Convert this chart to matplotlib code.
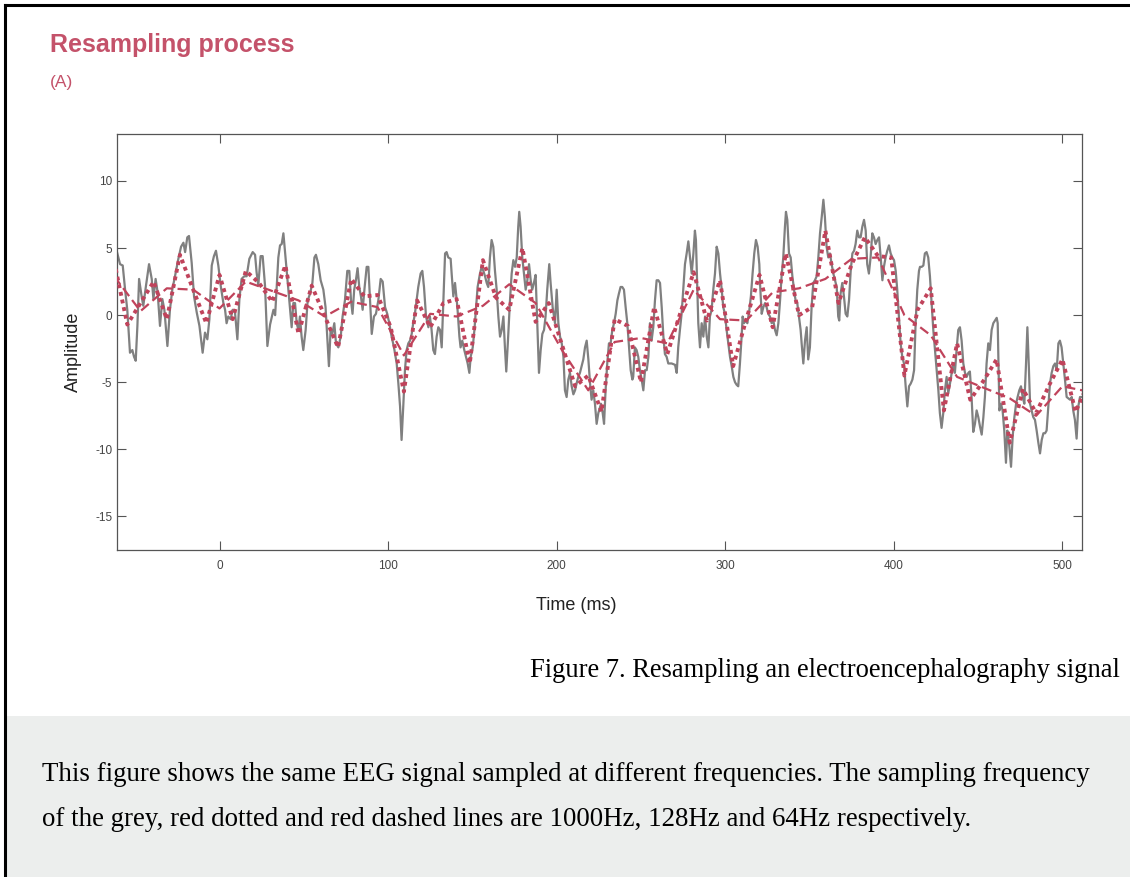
import matplotlib
matplotlib.use("Agg")
import matplotlib.pyplot as plt
from matplotlib.lines import Line2D
from matplotlib.patches import Rectangle

plt.rcParams["axes.unicode_minus"] = False

# ---- data -----------------------------------------------------------------
# 1000 Hz recording (turning points of the trace)
grey_t = [-61.0, -59.0, -57.4, -56.0, -54.7, -53.1, -51.7, -50.7, -49.7, -48.7, -47.7, -46.2,
          -45.2, -43.6, -41.8, -40.2, -39.2, -37.9, -36.7, -35.3, -33.9, -32.7, -30.9, -29.4,
          -28.0, -26.4, -24.4, -22.8, -21.4, -20.4, -19.1, -18.1, -16.5, -15.1, -13.5, -11.9,
          -10.0, -8.6, -7.2, -6.0, -4.6, -3.3, -2.1, -0.7, 0.7, 2.3, 3.3, 4.2, 5.2, 6.6, 7.8,
          9.2, 10.6, 11.8, 13.1, 14.7, 16.1, 17.7, 19.7, 21.1, 22.0, 23.0, 24.4, 25.6, 27.0,
          28.4, 30.0, 32.0, 33.0, 33.9, 34.9, 35.9, 36.9, 37.9, 38.8, 39.8, 40.8, 41.8, 42.8,
          43.8, 44.8, 45.8, 46.8, 47.7, 48.7, 49.7, 51.1, 52.3, 53.7, 55.1, 56.3, 57.2, 58.6,
          60.0, 61.6, 62.9, 63.9, 64.9, 65.9, 66.9, 68.1, 69.1, 70.5, 71.9, 73.0, 74.4, 75.8,
          77.0, 78.0, 78.9, 79.9, 80.9, 81.9, 82.9, 83.9, 84.9, 86.1, 87.3, 88.3, 89.3, 90.3,
          91.6, 92.8, 94.2, 95.6, 96.8, 97.6, 98.2, 99.5, 100.7, 102.1, 103.5, 105.1, 106.1,
          107.1, 108.0, 109.0, 110.0, 111.0, 112.0, 113.0, 114.0, 114.9, 115.9, 116.9, 117.9,
          119.3, 120.3, 121.3, 122.5, 123.9, 124.8, 125.8, 126.8, 127.8, 128.8, 129.8, 130.8,
          131.8, 132.8, 133.8, 134.7, 135.7, 137.1, 137.7, 138.7, 139.7, 140.3, 141.1, 142.3,
          143.0, 144.0, 145.2, 146.2, 147.2, 148.2, 149.0, 150.2, 151.2, 152.1, 153.1, 154.5,
          155.5, 156.5, 157.5, 158.5, 159.4, 160.4, 161.4, 162.4, 163.4, 164.4, 165.4, 166.4,
          167.4, 168.4, 169.3, 170.1, 171.1, 172.3, 173.3, 174.3, 175.3, 176.3, 177.2, 177.8,
          178.6, 179.6, 180.6, 181.6, 182.6, 183.6, 184.6, 185.5, 186.5, 187.5, 188.5, 189.5,
          190.5, 191.5, 192.5, 193.4, 194.4, 195.6, 196.4, 197.6, 199.0, 200.0, 201.0, 202.0,
          203.0, 204.0, 204.9, 205.9, 206.9, 207.9, 208.9, 209.9, 210.9, 211.8, 212.8, 213.8,
          214.8, 215.8, 216.8, 217.8, 218.8, 219.8, 220.7, 221.7, 222.7, 223.7, 224.7, 226.3,
          227.3, 228.1, 229.0, 230.0, 231.0, 232.0, 233.0, 234.0, 235.0, 236.0, 236.9, 237.9,
          238.9, 239.9, 240.9, 241.9, 242.9, 243.9, 244.9, 245.4, 246.4, 247.4, 248.4, 249.4,
          250.4, 251.4, 252.4, 253.4, 254.4, 255.3, 256.3, 257.3, 258.3, 259.3, 260.3, 261.3,
          262.3, 263.3, 264.2, 265.2, 266.2, 268.2, 270.2, 271.2, 272.1, 273.1, 274.1, 275.1,
          276.1, 277.1, 278.1, 279.1, 280.1, 281.1, 282.0, 282.6, 283.4, 284.0, 285.0, 286.0,
          287.0, 288.0, 289.0, 290.0, 290.9, 291.9, 292.9, 293.9, 294.9, 295.9, 296.9, 297.9,
          298.8, 299.8, 300.8, 301.8, 302.8, 303.8, 304.8, 305.8, 306.8, 307.7, 308.7, 309.7,
          310.3, 311.1, 312.1, 313.1, 314.3, 315.2, 316.2, 317.2, 318.2, 319.2, 320.2, 320.6,
          321.6, 322.6, 323.6, 324.5, 325.5, 326.5, 327.5, 328.5, 329.5, 330.5, 331.5, 332.5,
          333.4, 334.4, 335.4, 336.0, 336.8, 337.8, 338.8, 339.8, 340.8, 341.7, 342.7, 343.7,
          344.7, 345.3, 346.3, 347.3, 348.3, 349.2, 350.2, 351.2, 352.2, 353.2, 354.2, 355.2,
          356.2, 357.2, 358.2, 359.1, 360.1, 361.1, 362.1, 363.1, 364.1, 365.1, 366.1, 367.0,
          367.6, 368.4, 369.4, 370.4, 371.4, 372.4, 373.4, 374.4, 375.4, 376.4, 377.3, 378.3,
          379.3, 380.3, 381.3, 382.3, 383.3, 384.2, 385.2, 386.2, 387.2, 388.2, 389.2, 390.2,
          391.2, 392.2, 393.2, 394.1, 395.1, 396.1, 397.1, 398.1, 399.1, 400.1, 401.1, 402.0,
          403.0, 404.0, 405.0, 406.0, 407.0, 408.0, 409.0, 410.0, 411.0, 412.0, 412.9, 413.9,
          414.9, 415.5, 416.5, 417.5, 418.4, 419.4, 420.4, 421.4, 422.4, 423.4, 424.4, 425.4,
          426.4, 427.3, 428.3, 429.3, 430.3, 431.3, 432.3, 433.3, 434.3, 435.3, 436.2, 437.2,
          438.2, 439.2, 440.2, 441.2, 442.2, 443.2, 444.2, 445.1, 446.1, 447.1, 448.1, 449.1,
          450.1, 451.1, 452.1, 453.1, 454.0, 455.0, 456.0, 457.0, 458.0, 459.0, 460.0, 461.0,
          461.6, 462.6, 463.5, 464.5, 465.5, 466.5, 467.3, 468.3, 469.5, 470.5, 471.5, 472.5,
          473.4, 474.4, 475.4, 476.4, 477.4, 478.4, 479.2, 480.0, 480.8, 481.7, 482.7, 483.7,
          484.7, 485.7, 486.7, 487.7, 488.7, 489.7, 490.6, 491.6, 492.6, 493.6, 494.6, 495.6,
          496.6, 497.6, 498.5, 499.5, 500.5, 501.5, 502.5, 503.5, 504.5, 505.5, 506.4, 507.4,
          508.4, 509.4, 510.4, 511.4]
grey_v = [4.8, 3.8, 3.7, 1.9, 0.4, -2.8, -2.6, -3.1, -3.4, -0.8, 2.7, 1.4,
          0.7, 2.2, 3.8, 2.7, 1.2, 2.7, 1.7, -0.8, 1.2, 0.4, -2.3, 0.4,
          1.9, 2.9, 4.2, 5.1, 5.4, 4.7, 5.8, 5.9, 3.9, 1.4, 0.2, -0.8,
          -2.8, -1.3, -1.8, -0.3, 3.7, 4.4, 4.8, 3.7, 2.2, 0.9, 0.4, -0.6, -0.1, -0.3, 0.4,
          0.2, -1.8, 1.2, 2.7, 2.9, 2.9, 4.2, 4.7, 4.5, 3.2, 2.2, 4.4, 4.4, 2.2,
          -2.3, -0.7, 0.4, 0.0, 2.1, 4.3, 5.2, 5.3, 6.1, 4.8, 3.3, 1.9, 0.4, -0.9,
          0.9, 0.9, -0.6, -1.1, -0.1, -1.6, -2.6, -1.1, 1.1, 1.6, 2.4, 4.3, 4.5, 3.8,
          2.6, 1.9, 0.6, -1.6, -3.8, -1.1, -1.4, -0.6, -2.1, -2.4, -1.6, -0.1, 1.1, 3.3,
          3.3, 1.1, 0.1, 1.9, 2.6, 3.5, 2.1, 1.4, 0.4, 2.1, 3.6, 3.6, 1.1, -1.4,
          -0.1, 0.1, 1.1, 2.7, 2.5, 1.4, 0.6, 0.1, -0.6, -1.6, -2.4, -3.6, -5.1,
          -6.8, -9.3, -6.8, -4.1, -2.6, -2.1, -1.9, -1.4, -0.6, 0.1, 1.1, 2.1,
          3.1, 3.3, 2.1, -0.1, -0.9, -0.1, -1.1, -2.6, -2.9, -1.6, -0.9, -1.1,
          -2.4, 1.1, 4.6, 4.7, 4.3, 4.2, 3.1, 1.4, 2.4, 1.6, 0.6, -1.6,
          -2.4, -1.9, -2.6, -3.1, -3.6, -4.3, -3.1, -2.4, -1.1, 0.4, 2.1, 3.1,
          3.6, 3.3, 2.9, 2.4, 2.1, 4.3, 5.6, 5.1, 3.3, 1.9, -0.1, -1.6,
          -1.1, -0.1, -2.4, -4.2, -1.9, 1.1, 3.1, 4.1, 3.6, 4.3, 6.6, 7.7,
          6.6, 4.3, 3.1, 1.9, 2.6, 3.8, 2.6, 1.9, 2.4, 3.0, -0.6, -4.3,
          -2.6, -1.4, -1.1, -0.1, 1.9, 3.8, 2.4, 0.6, -0.6, 1.9, -0.6, -1.6,
          -2.1, -3.1, -5.6, -6.1, -4.8, -4.3, -5.3, -5.9, -5.6, -5.1, -4.6, -4.3,
          -3.8, -3.3, -2.4, -1.9, -3.3, -5.1, -6.3, -5.6, -6.6, -8.1, -7.3, -6.6,
          -7.3, -8.1, -5.6, -3.6, -2.1, -2.1, -1.1, -0.6, 0.1, 1.1, 1.6, 2.1,
          2.1, 1.9, 0.6, -0.6, -2.4, -4.1, -4.8, -4.6, -2.4, -2.6, -3.1, -4.1,
          -4.8, -5.6, -4.1, -4.1, -3.1, -0.6, -1.9, -0.9, 1.1, 2.6, 2.6, 2.4,
          0.6, -1.6, -2.9, -3.1, -3.6, -3.6, -3.7, -4.3, -2.4, -1.1, 0.1, 1.9,
          3.8, 4.6, 5.5, 4.3, 3.1, 4.6, 6.3, 5.6, 1.9, -0.6, -2.4, -0.6,
          -1.6, -0.1, -1.6, -2.4, -0.1, 0.4, 1.9, 3.1, 5.1, 4.6, 3.1, 1.9,
          0.6, 0.1, -1.1, -2.1, -3.1, -3.8, -4.6, -5.0, -5.2, -5.3, -3.6, -1.6,
          -0.1, -0.6, -0.4, -0.6, 0.4, 1.4, 3.1, 4.6, 5.6, 5.1, 3.8, 2.4,
          0.1, 0.6, 0.9, 0.6, 0.1, -0.1, -0.6, -0.4, -1.1, -1.5, -0.6, 1.1,
          2.9, 4.3, 6.6, 7.7, 7.1, 4.6, 4.3, 2.9, 1.9, 1.1, 0.9, -0.1,
          -1.1, -2.1, -3.6, -1.9, -0.9, -3.3, -2.4, 0.6, 2.4, 2.6, 2.9, 4.3,
          6.1, 7.3, 8.6, 7.3, 5.1, 4.3, 4.6, 3.8, 3.1, 2.6, 2.1, -0.1,
          -0.4, 1.6, 2.4, 1.4, 0.1, -0.1, 1.1, 3.3, 4.6, 4.8, 5.3, 6.3,
          5.8, 5.8, 6.6, 7.1, 6.3, 3.8, 3.1, 4.3, 6.1, 5.8, 5.3, 5.6,
          5.8, 4.3, 2.6, 3.6, 4.3, 4.8, 5.2, 4.6, 4.3, 4.1, 3.3, 1.9,
          -0.1, -2.1, -3.1, -3.6, -5.3, -6.8, -5.3, -5.1, -4.8, -4.1, -0.6, 1.9,
          3.3, 3.6, 3.6, 3.7, 4.6, 4.7, 4.3, 2.9, 0.9, -1.1, -2.6, -4.1,
          -5.6, -7.3, -8.4, -7.3, -5.6, -4.6, -5.8, -5.1, -4.3, -3.6, -4.3, -2.6,
          -1.1, -0.9, -1.9, -3.6, -4.3, -4.6, -4.3, -4.2, -6.1, -8.7, -8.1, -7.1,
          -7.6, -8.3, -8.9, -7.6, -6.1, -3.6, -2.1, -2.6, -1.1, -0.6, -0.4, -0.2,
          -0.6, -7.1, -6.6, -7.1, -8.6, -11.0, -8.6, -9.5, -11.3, -9.0, -7.6, -6.6,
          -6.1, -5.6, -5.3, -6.1, -6.6, -3.6, -0.9, -3.6, -6.6, -7.1, -7.6, -7.8,
          -8.6, -9.5, -10.3, -9.3, -8.8, -8.8, -8.6, -6.8, -5.1, -4.3, -3.8, -3.6,
          -4.1, -2.1, -1.9, -2.4, -3.6, -4.8, -6.1, -6.2, -6.3, -6.1, -7.1, -7.8,
          -9.2, -6.8, -6.1, -6.1]

# 128 Hz resampled signal
rs128_t0, rs128_dt = -62.5, 1000.0 / 128
rs128_v = [4.0, -0.7, 0.9, 2.5, -0.3, 4.5, 1.9, -0.6, 3.0, -0.3, 3.3, 2.4, 1.0, 3.7,
           -1.4, 2.2, -0.1, -2.4, 2.7, 1.4, 1.5, -0.9, -5.7, 1.1, -0.9, 0.9, 1.2, -3.6,
           4.1, 1.3, 0.4, 5.0, -0.5, 0.9, -2.2, -5.3, -4.5, -7.2, -0.3, -0.8, -5.0, 0.6,
           -2.9, 0.2, 3.2, -0.4, 2.6, -3.8, -0.3, 3.0, -0.9, 4.6, 0.0, 0.6, 6.3, 0.9,
           3.8, 5.8, 4.4, 4.3, -4.5, 0.4, 2.0, -7.1, -2.1, -6.3, -4.9, -3.3, -9.5, -5.5,
           -7.3, -5.2, -3.3, -7.2, -5.0]
rs128_t = [rs128_t0 + k * rs128_dt for k in range(len(rs128_v))]

# 64 Hz resampled signal
rs64_t0, rs64_dt = -62.5, 1000.0 / 64
rs64_v = [2.9, 0.3, 2.0, 1.9, 0.5, 2.5, 1.8, 1.1, -0.1, 1.0, 0.6, -3.0, 0.1, -0.1,
          0.7, 2.3, 0.9, -2.6, -5.6, -2.0, -1.7, -2.1, 1.9, -0.3, -0.4, 1.7, 2.0, 2.7,
          4.2, 4.3, 0.0, -1.5, -4.6, -5.4, -6.2, -7.5, -5.3, -5.7]
rs64_t = [rs64_t0 + k * rs64_dt for k in range(len(rs64_v))]

x_ticks = [0, 100, 200, 300, 400, 500]
y_ticks = [-15, -10, -5, 0, 5, 10]

title_text = "Resampling process"
panel_text = "(A)"
caption_text = "Figure 7. Resampling an electroencephalography signal"
note_lines = ["This figure shows the same EEG signal sampled at different frequencies. The sampling frequency",
              "of the grey, red dotted and red dashed lines are 1000Hz, 128Hz and 64Hz respectively."]

# ---- figure ---------------------------------------------------------------
W, H = 1130, 877
fig = plt.figure(figsize=(W / 100, H / 100), dpi=100)
fig.patch.set_facecolor("white")

def fx(px):
    return px / W

def fy(py):
    return 1 - py / H

sans = ["Liberation Sans", "DejaVu Sans"]
serif = ["Liberation Serif", "DejaVu Serif"]
accent = "#c4526a"
red = "#c0435b"

# grey note panel and page frame
fig.patches.append(Rectangle((fx(4), 0), 1 - fx(4), fy(716), transform=fig.transFigure,
                             facecolor="#eceeed", edgecolor="none", zorder=0))
fig.add_artist(Line2D([fx(4.5), fx(4.5)], [0, fy(4.5)], transform=fig.transFigure,
                      color="black", lw=2.2, solid_capstyle="projecting"))
fig.add_artist(Line2D([fx(4.5), 1], [fy(4.5), fy(4.5)], transform=fig.transFigure,
                      color="black", lw=2.2, solid_capstyle="projecting"))

ax = fig.add_axes([fx(117), fy(550), fx(1082) - fx(117), fy(134) - fy(550)])
ax.plot(grey_t, grey_v, color="#808080", lw=1.6, solid_joinstyle="round", zorder=2)
ax.plot(rs64_t, rs64_v, color=red, lw=1.6, linestyle=(0, (4.5, 2.2)), zorder=3)
ax.plot(rs128_t, rs128_v, color=red, lw=2.8, linestyle=(0, (1, 1.0)), zorder=4)

ax.set_xlim(-60.8, 511.6)
ax.set_ylim(-17.5, 13.5)
ax.set_xticks(x_ticks)
ax.set_yticks(y_ticks)
ax.tick_params(direction="in", length=6.5, width=0.8, color="#555555",
               top=True, right=True, labelsize=8.5, labelcolor="#444444")
ax.tick_params(axis="x", pad=7)
ax.tick_params(axis="y", pad=3.5)
for lab in ax.get_xticklabels() + ax.get_yticklabels():
    lab.set_family(sans)
for sp in ax.spines.values():
    sp.set_color("#555555")
    sp.set_linewidth(0.9)

fig.text(fx(73), fy(352), "Amplitude", rotation=90, ha="center", va="center",
         fontsize=13, family=sans, color="#222222")
fig.text(fx(576), fy(605), "Time (ms)", ha="center", va="center",
         fontsize=13, family=sans, color="#222222")

fig.text(fx(50), fy(52), title_text, ha="left", va="baseline", fontsize=18,
         fontweight="bold", family=sans, color=accent)
fig.text(fx(50), fy(87), panel_text, ha="left", va="baseline", fontsize=12.5,
         family=sans, color=accent)

fig.text(fx(1120), fy(677), caption_text, ha="right", va="baseline", fontsize=19.1,
         family=serif, color="black")
fig.text(fx(42), fy(781), note_lines[0], ha="left", va="baseline", fontsize=19.4,
         family=serif, color="black")
fig.text(fx(42), fy(826), note_lines[1], ha="left", va="baseline", fontsize=19.4,
         family=serif, color="black")

fig.savefig("out.png", dpi=100, facecolor=fig.get_facecolor())
